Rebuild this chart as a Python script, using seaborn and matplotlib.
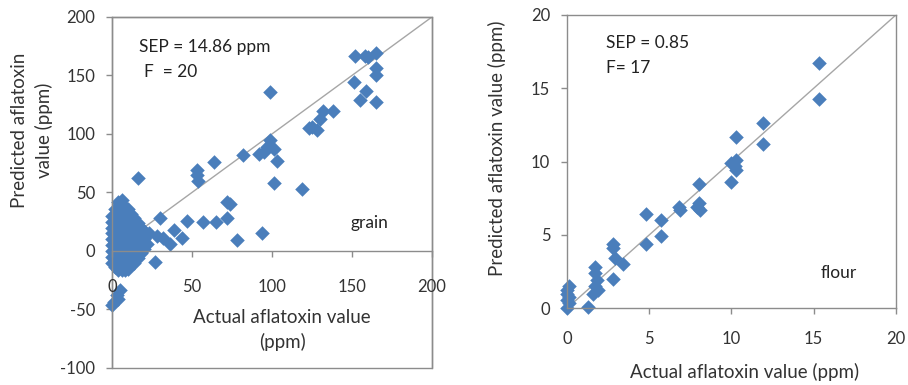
import pandas as pd
import matplotlib.pyplot as plt
import seaborn as sns

# grain: isolated points
grain_x = [165, 152, 158, 160, 165, 165, 151, 155, 159, 165, 99, 132, 138, 130, 125, 128, 123,
           99, 97, 101, 92, 95, 82, 103, 101, 119, 64, 53, 54, 53, 72, 74, 72, 65, 57, 47, 30,
           39, 44, 36, 28, 23, 32, 78, 94, 27, 16, 5, 3, 1, 4, 0]
grain_y = [169, 167, 167, 166, 156, 150, 144, 129, 137, 127, 136, 120, 120, 113, 106, 103, 105,
           95, 89, 87, 83, 85, 82, 77, 58, 53, 76, 69, 60, 65, 42, 40, 28, 25, 25, 26, 28,
           18, 11, 6, 13, 15, 11, 9, 15, -9, 62, -33, -38, -44, -41, -46]

# grain: the dense cluster near the origin, column by column
blob_x = ([0] * 9 + [2] * 8 + [4] * 9 + [6] * 9 + [8] * 8 + [10] * 8 + [12] * 7
          + [14] * 6 + [16] * 5 + [18] * 4 + [20] * 3 + [22] * 2)
blob_y = ([-10, -5, 0, 5, 10, 15, 20, 25, 30]
          + [-14, -8, 0, 8, 15, 22, 30, 36]
          + [-16, -10, -4, 4, 12, 20, 28, 36, 42]
          + [-16, -10, -4, 4, 12, 20, 28, 36, 44]
          + [-16, -10, -2, 6, 14, 22, 30, 38]
          + [-15, -8, 0, 8, 16, 24, 32, 36]
          + [-12, -4, 4, 12, 20, 28, 32]
          + [-10, -2, 6, 14, 22, 28]
          + [-6, 2, 10, 18, 24]
          + [-2, 6, 14, 20]
          + [2, 10, 17]
          + [6, 14])

# flour
flour_x = [15.3, 15.3, 11.9, 11.9, 10.3, 10.0, 10.3, 10.0, 10.3, 10.2, 8.0, 8.0, 8.1, 7.9,
           6.8, 6.9, 4.8, 4.8, 5.7, 5.7, 2.8, 2.8, 2.9, 3.4, 2.8, 1.7, 1.7, 1.8, 1.7, 1.9,
           1.6, 1.3, 0.1, 0.0, 0.0, 0.1, 0.0, 0.1, 0.0]
flour_y = [16.7, 14.3, 12.6, 11.2, 11.7, 9.9, 10.1, 8.6, 9.4, 9.7, 8.45, 7.2, 6.7, 6.9,
           6.9, 6.7, 6.4, 4.4, 6.0, 4.9, 4.4, 4.1, 3.4, 3.0, 2.0, 2.8, 2.4, 1.9, 1.5, 1.25,
           1.0, 0.1, 1.5, 1.0, 0.6, 0.35, 0.0, 0.8, 1.25]

grain = pd.DataFrame({'actual': grain_x + blob_x, 'predicted': grain_y + blob_y})
flour = pd.DataFrame({'actual': flour_x, 'predicted': flour_y})

sns.set_style('white')
plt.rcParams['font.family'] = ['Lato', 'DejaVu Sans']
plt.rcParams['axes.unicode_minus'] = False
txt = '#333333'
edge = '#8c8c8c'
blue = '#4a7ebb'
W, H = 908, 385

fig = plt.figure(figsize=(9.08, 3.85), dpi=100)
ax1 = fig.add_axes([0.1233, 0.0442, 0.3524, 0.9117])
ax2 = fig.add_axes([0.6244, 0.1992, 0.3623, 0.7620])

# left panel: grain
ax1.plot([0, 200], [0, 200], color='#a6a6a6', lw=1, zorder=1)
sns.scatterplot(data=grain, x='actual', y='predicted', ax=ax1, marker='D', s=55,
                color=blue, linewidth=0, zorder=2, clip_on=False)
ax1.set_xlim(0, 200)
ax1.set_ylim(-100, 200)
ax1.set_xticks([0, 50, 100, 150, 200])
ax1.set_yticks([-100, -50, 0, 50, 100, 150, 200])
ax1.spines['bottom'].set_position(('data', 0))
ax1.patch.set_edgecolor(edge)
ax1.patch.set_linewidth(1)
ax1.set_xlabel('')
ax1.set_ylabel('')
ax1.xaxis.set_zorder(3)
fig.text(282 / W, 1 - 330 / H, 'Actual aflatoxin value\n(ppm)', fontsize=13.5, color=txt,
         ha='center', va='center', linespacing=1.5)
fig.text(32 / W, 1 - 130 / H, 'Predicted aflatoxin\nvalue (ppm)', fontsize=13.5, color=txt,
         ha='center', va='center', rotation=90, linespacing=1.5)
ax1.text(17, 174, 'SEP = 14.86 ppm', fontsize=12.5, color='#222222', va='center')
ax1.text(20, 153, 'F  = 20', fontsize=12.5, color='#222222', va='center')
ax1.text(149, 24, 'grain', fontsize=12.5, color='#222222', va='center')
ax1.tick_params(axis='x', pad=16)

# right panel: flour
ax2.plot([0, 20], [0, 20], color='#a6a6a6', lw=1, zorder=1)
sns.scatterplot(data=flour, x='actual', y='predicted', ax=ax2, marker='D', s=55,
                color=blue, linewidth=0, zorder=2, clip_on=False)
ax2.set_xlim(0, 20)
ax2.set_ylim(0, 20)
ax2.set_xticks([0, 5, 10, 15, 20])
ax2.set_yticks([0, 5, 10, 15, 20])
ax2.set_xlabel('')
ax2.set_ylabel('')
fig.text(745 / W, 1 - 372 / H, 'Actual aflatoxin value (ppm)', fontsize=13.5, color=txt,
         ha='center', va='center')
fig.text(497 / W, 1 - 148 / H, 'Predicted aflatoxin value (ppm)', fontsize=13.5, color=txt,
         ha='center', va='center', rotation=90)
ax2.text(2.4, 18.1, 'SEP = 0.85', fontsize=12.5, color='#222222', va='center')
ax2.text(2.4, 16.4, 'F= 17', fontsize=12.5, color='#222222', va='center')
ax2.text(15.4, 2.4, 'flour', fontsize=12.5, color='#222222', va='center')
ax2.tick_params(axis='x', pad=12)

for ax in (ax1, ax2):
    for sp in ax.spines.values():
        sp.set_color(edge)
        sp.set_linewidth(1)
    ax.tick_params(axis='both', direction='out', length=4, width=1, color=edge,
                   labelsize=12, labelcolor=txt)
    ax.tick_params(axis='y', pad=8)
    ax.tick_params(bottom=True, left=True)

fig.savefig('out.png', dpi=100)
